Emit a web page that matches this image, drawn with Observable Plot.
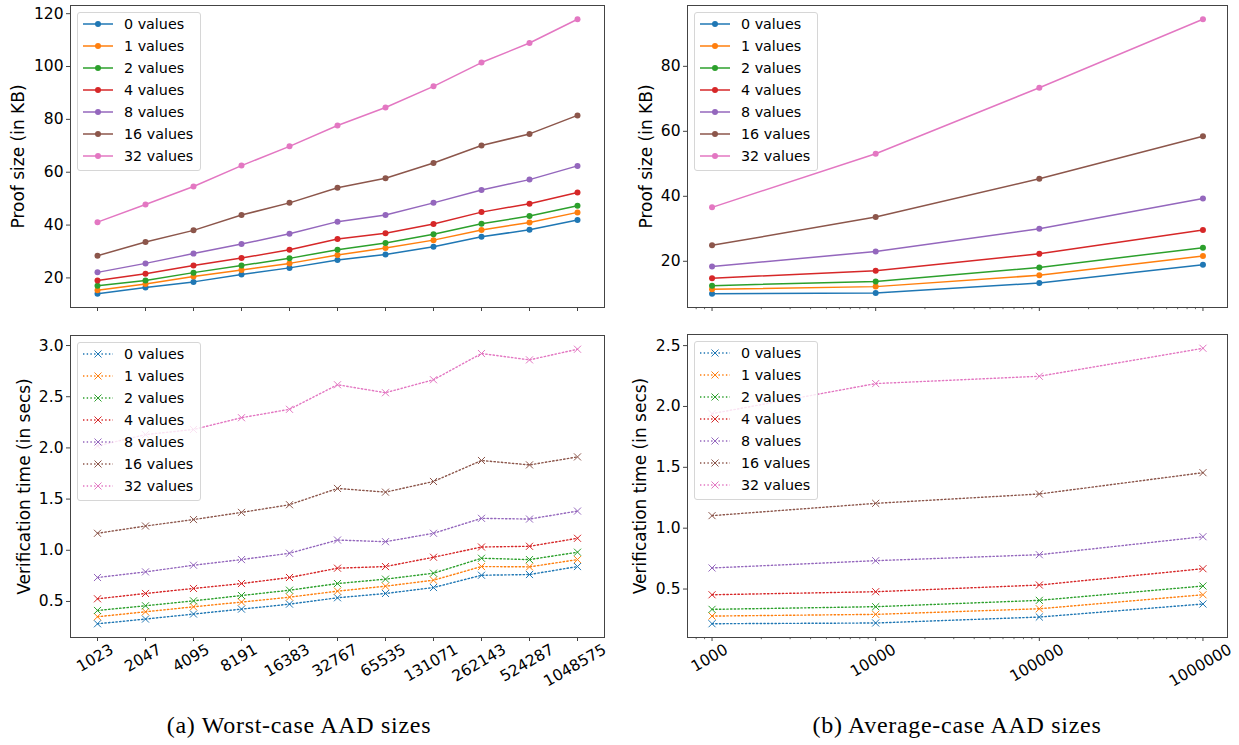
<!DOCTYPE html>
<html><head><meta charset="utf-8">
<script src="https://cdn.jsdelivr.net/npm/d3@7"></script>
<script src="https://cdn.jsdelivr.net/npm/@observablehq/plot@0.6"></script>
<style>
body{margin:0;background:#fff;}
#root{position:relative;width:1239px;height:745px;overflow:hidden;font-family:"DejaVu Sans",sans-serif;}
.panel{position:absolute;}
.legend{position:absolute;background:rgba(255,255,255,0.8);border:1px solid #d6d6d6;border-radius:3px;box-sizing:border-box;}
.legend .row{position:absolute;left:0;height:16px;}
.legend .row svg{position:absolute;left:4px;top:0;}
.legend .row span{position:absolute;left:46px;top:-1px;font-size:14.3px;line-height:18px;white-space:nowrap;color:#000;}
.caption{position:absolute;font-family:"Liberation Serif",serif;font-size:24px;letter-spacing:0.7px;white-space:nowrap;transform:translateX(-50%);line-height:24px;color:#000;}
</style></head><body><div id="root"></div>
<script>
// ---------- data ----------
const worstSizes = ["1023","2047","4095","8191","16383","32767","65535","131071","262143","524287","1048575"];
const avgSizes = [1000, 10000, 100000, 1000000];
const avgSizeLabels = ["1000","10000","100000","1000000"];
const seriesNames = ["0 values","1 values","2 values","4 values","8 values","16 values","32 values"];
const seriesColors = ["#1f77b4","#ff7f0e","#2ca02c","#d62728","#9467bd","#8c564b","#e377c2"];

const worstProof = [
  [14.0,16.4,18.5,21.3,23.8,26.8,28.9,31.8,35.6,38.2,41.9],
  [15.3,17.7,20.5,23.0,25.5,28.7,31.3,34.3,38.1,41.0,44.8],
  [17.0,19.0,22.0,24.7,27.4,30.7,33.2,36.5,40.5,43.4,47.3],
  [19.0,21.6,24.7,27.5,30.7,34.7,36.9,40.4,44.9,48.1,52.3],
  [22.1,25.5,29.2,32.8,36.7,41.3,43.8,48.4,53.3,57.2,62.4],
  [28.4,33.6,38.0,43.8,48.4,54.1,57.7,63.5,70.1,74.5,81.5],
  [41.1,47.8,54.6,62.5,69.8,77.7,84.5,92.5,101.5,108.9,117.9]
];
const worstTime = [
  [0.282,0.328,0.377,0.425,0.474,0.536,0.578,0.636,0.756,0.763,0.841],
  [0.351,0.399,0.448,0.494,0.542,0.601,0.649,0.708,0.841,0.838,0.909],
  [0.412,0.458,0.506,0.558,0.610,0.675,0.718,0.776,0.922,0.909,0.981],
  [0.526,0.578,0.627,0.675,0.734,0.825,0.841,0.932,1.032,1.039,1.117],
  [0.734,0.789,0.854,0.909,0.971,1.100,1.084,1.166,1.312,1.305,1.383],
  [1.166,1.237,1.300,1.370,1.445,1.604,1.568,1.672,1.877,1.834,1.912],
  [2.02,2.13,2.18,2.295,2.377,2.617,2.539,2.666,2.922,2.860,2.964]
];
const avgProof = [
  [10.0,10.2,13.3,18.9],
  [11.4,12.2,15.7,21.6],
  [12.5,13.8,18.1,24.2],
  [14.8,17.1,22.3,29.6],
  [18.4,23.0,30.0,39.3],
  [24.9,33.6,45.4,58.5],
  [36.6,53.1,73.4,94.5]
];
const avgTime = [
  [0.215,0.221,0.270,0.377],
  [0.278,0.292,0.338,0.453],
  [0.333,0.355,0.407,0.525],
  [0.453,0.478,0.533,0.667],
  [0.673,0.733,0.782,0.930],
  [1.103,1.204,1.281,1.456],
  [1.941,2.188,2.248,2.478]
];
const proofTicksWorst = [20,40,60,80,100,120];
const proofTicksAvg = [20,40,60,80];
const timeTicksWorst = [0.5,1.0,1.5,2.0,2.5,3.0];
const timeTicksAvg = [0.5,1.0,1.5,2.0,2.5];

// ---------- helpers ----------
const root = document.getElementById("root");
const FRAME = "#444";

function padDomain(vals) {
  const lo = d3.min(vals), hi = d3.max(vals), r = hi - lo;
  return [lo - 0.05 * r, hi + 0.05 * r];
}

function panel(cfg) {
  const {left, top, width, height, m, xs, xLabels, logX, values, yTicks, yFmt, ylabel, labelDx, dotted, showXLabels} = cfg;
  const rowsBySeries = values.map((arr, i) => arr.map((v, j) => ({series: seriesNames[i], x: xs[j], y: v})));
  const allY = values.flat();
  const xScale = logX
    ? {type: "log", domain: [10 ** 2.85, 10 ** 6.15]}
    : {type: "point", domain: xs, padding: 0.5};
  const marks = [];
  rowsBySeries.forEach((rows) => {
    marks.push(Plot.line(rows, {x: "x", y: "y", stroke: "series", strokeWidth: dotted ? 1.4 : 1.5,
      strokeDasharray: dotted ? "1.4,2.3" : null}));
    if (dotted) {
      marks.push(Plot.dot(rows, {x: "x", y: "y", stroke: "series", symbol: "times", r: 3.3, strokeWidth: 1}));
    } else {
      marks.push(Plot.dot(rows, {x: "x", y: "y", fill: "series", r: 3}));
    }
  });
  marks.push(Plot.frame({stroke: FRAME, strokeWidth: 1}));
  marks.push(Plot.axisY({ticks: yTicks, tickSize: 4, tickPadding: 3, fontSize: 15.5, tickFormat: yFmt, label: null, stroke: FRAME}));
  marks.push(Plot.axisX({ticks: xs, tickSize: 4, tickFormat: () => "", label: null, stroke: FRAME}));
  if (logX) {
    const dom = xScale.domain;
    const minor = d3.range(2, 7).flatMap(e => d3.range(2, 10).map(k => k * 10 ** e)).filter(v => v >= dom[0] && v <= dom[1]);
    marks.push(Plot.axisX({ticks: minor, tickSize: 2.2, tickFormat: () => "", label: null, stroke: FRAME, strokeWidth: 0.8}));
  }
  if (showXLabels) {
    xs.forEach((v, j) => {
      const s = xLabels[j];
      marks.push(Plot.text([v], {x: d => d, frameAnchor: "bottom", text: () => s, rotate: -30,
        textAnchor: "middle", dy: 15 + 2.47 * s.length, fontSize: 15.5, fill: "#000"}));
    });
  }
  marks.push(Plot.text([ylabel], {text: d => d, frameAnchor: "left", dx: labelDx, rotate: -90,
    textAnchor: "middle", fontSize: 17, fill: "#000"}));

  const svg = Plot.plot({
    width, height,
    marginTop: m[0], marginRight: m[1], marginBottom: m[2], marginLeft: m[3],
    x: {...xScale, label: null},
    y: {domain: padDomain(allY), label: null},
    color: {domain: seriesNames, range: seriesColors},
    style: {fontFamily: "DejaVu Sans", background: "transparent", overflow: "visible", color: "#000"},
    marks
  });
  svg.classList.add("panel");
  svg.style.left = left + "px";
  svg.style.top = top + "px";
  root.appendChild(svg);

  // legend
  const lg = document.createElement("div");
  lg.className = "legend";
  lg.style.left = (left + m[3] + 7) + "px";
  lg.style.top = (top + m[0] + 7) + "px";
  lg.style.width = "124px";
  lg.style.height = "159px";
  seriesNames.forEach((name, i) => {
    const row = document.createElement("div");
    row.className = "row";
    row.style.top = (3 + 22 * i) + "px";
    const c = seriesColors[i];
    const marker = dotted
      ? `<path d="M12.5,4.5L19.5,11.5M19.5,4.5L12.5,11.5" stroke="${c}" stroke-width="1" fill="none"/>`
      : `<circle cx="16" cy="8" r="3" fill="${c}"/>`;
    row.innerHTML = `<svg width="32" height="16"><line x1="1" y1="8" x2="31" y2="8" stroke="${c}" stroke-width="${dotted ? 1.4 : 1.5}" ${dotted ? 'stroke-dasharray="1.4,2.3"' : ''}/>${marker}</svg><span>${name}</span>`;
    lg.appendChild(row);
  });
  root.appendChild(lg);
}

panel({left: 0, top: 0, width: 620, height: 320, m: [5, 16, 13, 70], xs: worstSizes, xLabels: worstSizes,
  logX: false, values: worstProof, yTicks: proofTicksWorst, yFmt: d3.format("d"), ylabel: "Proof size (in KB)",
  labelDx: -52, dotted: false, showXLabels: false});
panel({left: 0, top: 320, width: 620, height: 380, m: [15, 16, 63, 70], xs: worstSizes, xLabels: worstSizes,
  logX: false, values: worstTime, yTicks: timeTicksWorst, yFmt: d3.format(".1f"), ylabel: "Verification time (in secs)",
  labelDx: -46, dotted: true, showXLabels: true});
panel({left: 620, top: 0, width: 619, height: 320, m: [5, 12, 13, 67], xs: avgSizes, xLabels: avgSizeLabels,
  logX: true, values: avgProof, yTicks: proofTicksAvg, yFmt: d3.format("d"), ylabel: "Proof size (in KB)",
  labelDx: -41, dotted: false, showXLabels: false});
panel({left: 620, top: 320, width: 619, height: 380, m: [14, 12, 63, 67], xs: avgSizes, xLabels: avgSizeLabels,
  logX: true, values: avgTime, yTicks: timeTicksAvg, yFmt: d3.format(".1f"), ylabel: "Verification time (in secs)",
  labelDx: -47, dotted: true, showXLabels: true});

// captions
[["(a) Worst-case AAD sizes", 299], ["(b) Average-case AAD sizes", 957]].forEach(([t, cx]) => {
  const d = document.createElement("div");
  d.className = "caption";
  d.textContent = t;
  d.style.left = cx + "px";
  d.style.top = "713px";
  root.appendChild(d);
});
</script></body></html>
